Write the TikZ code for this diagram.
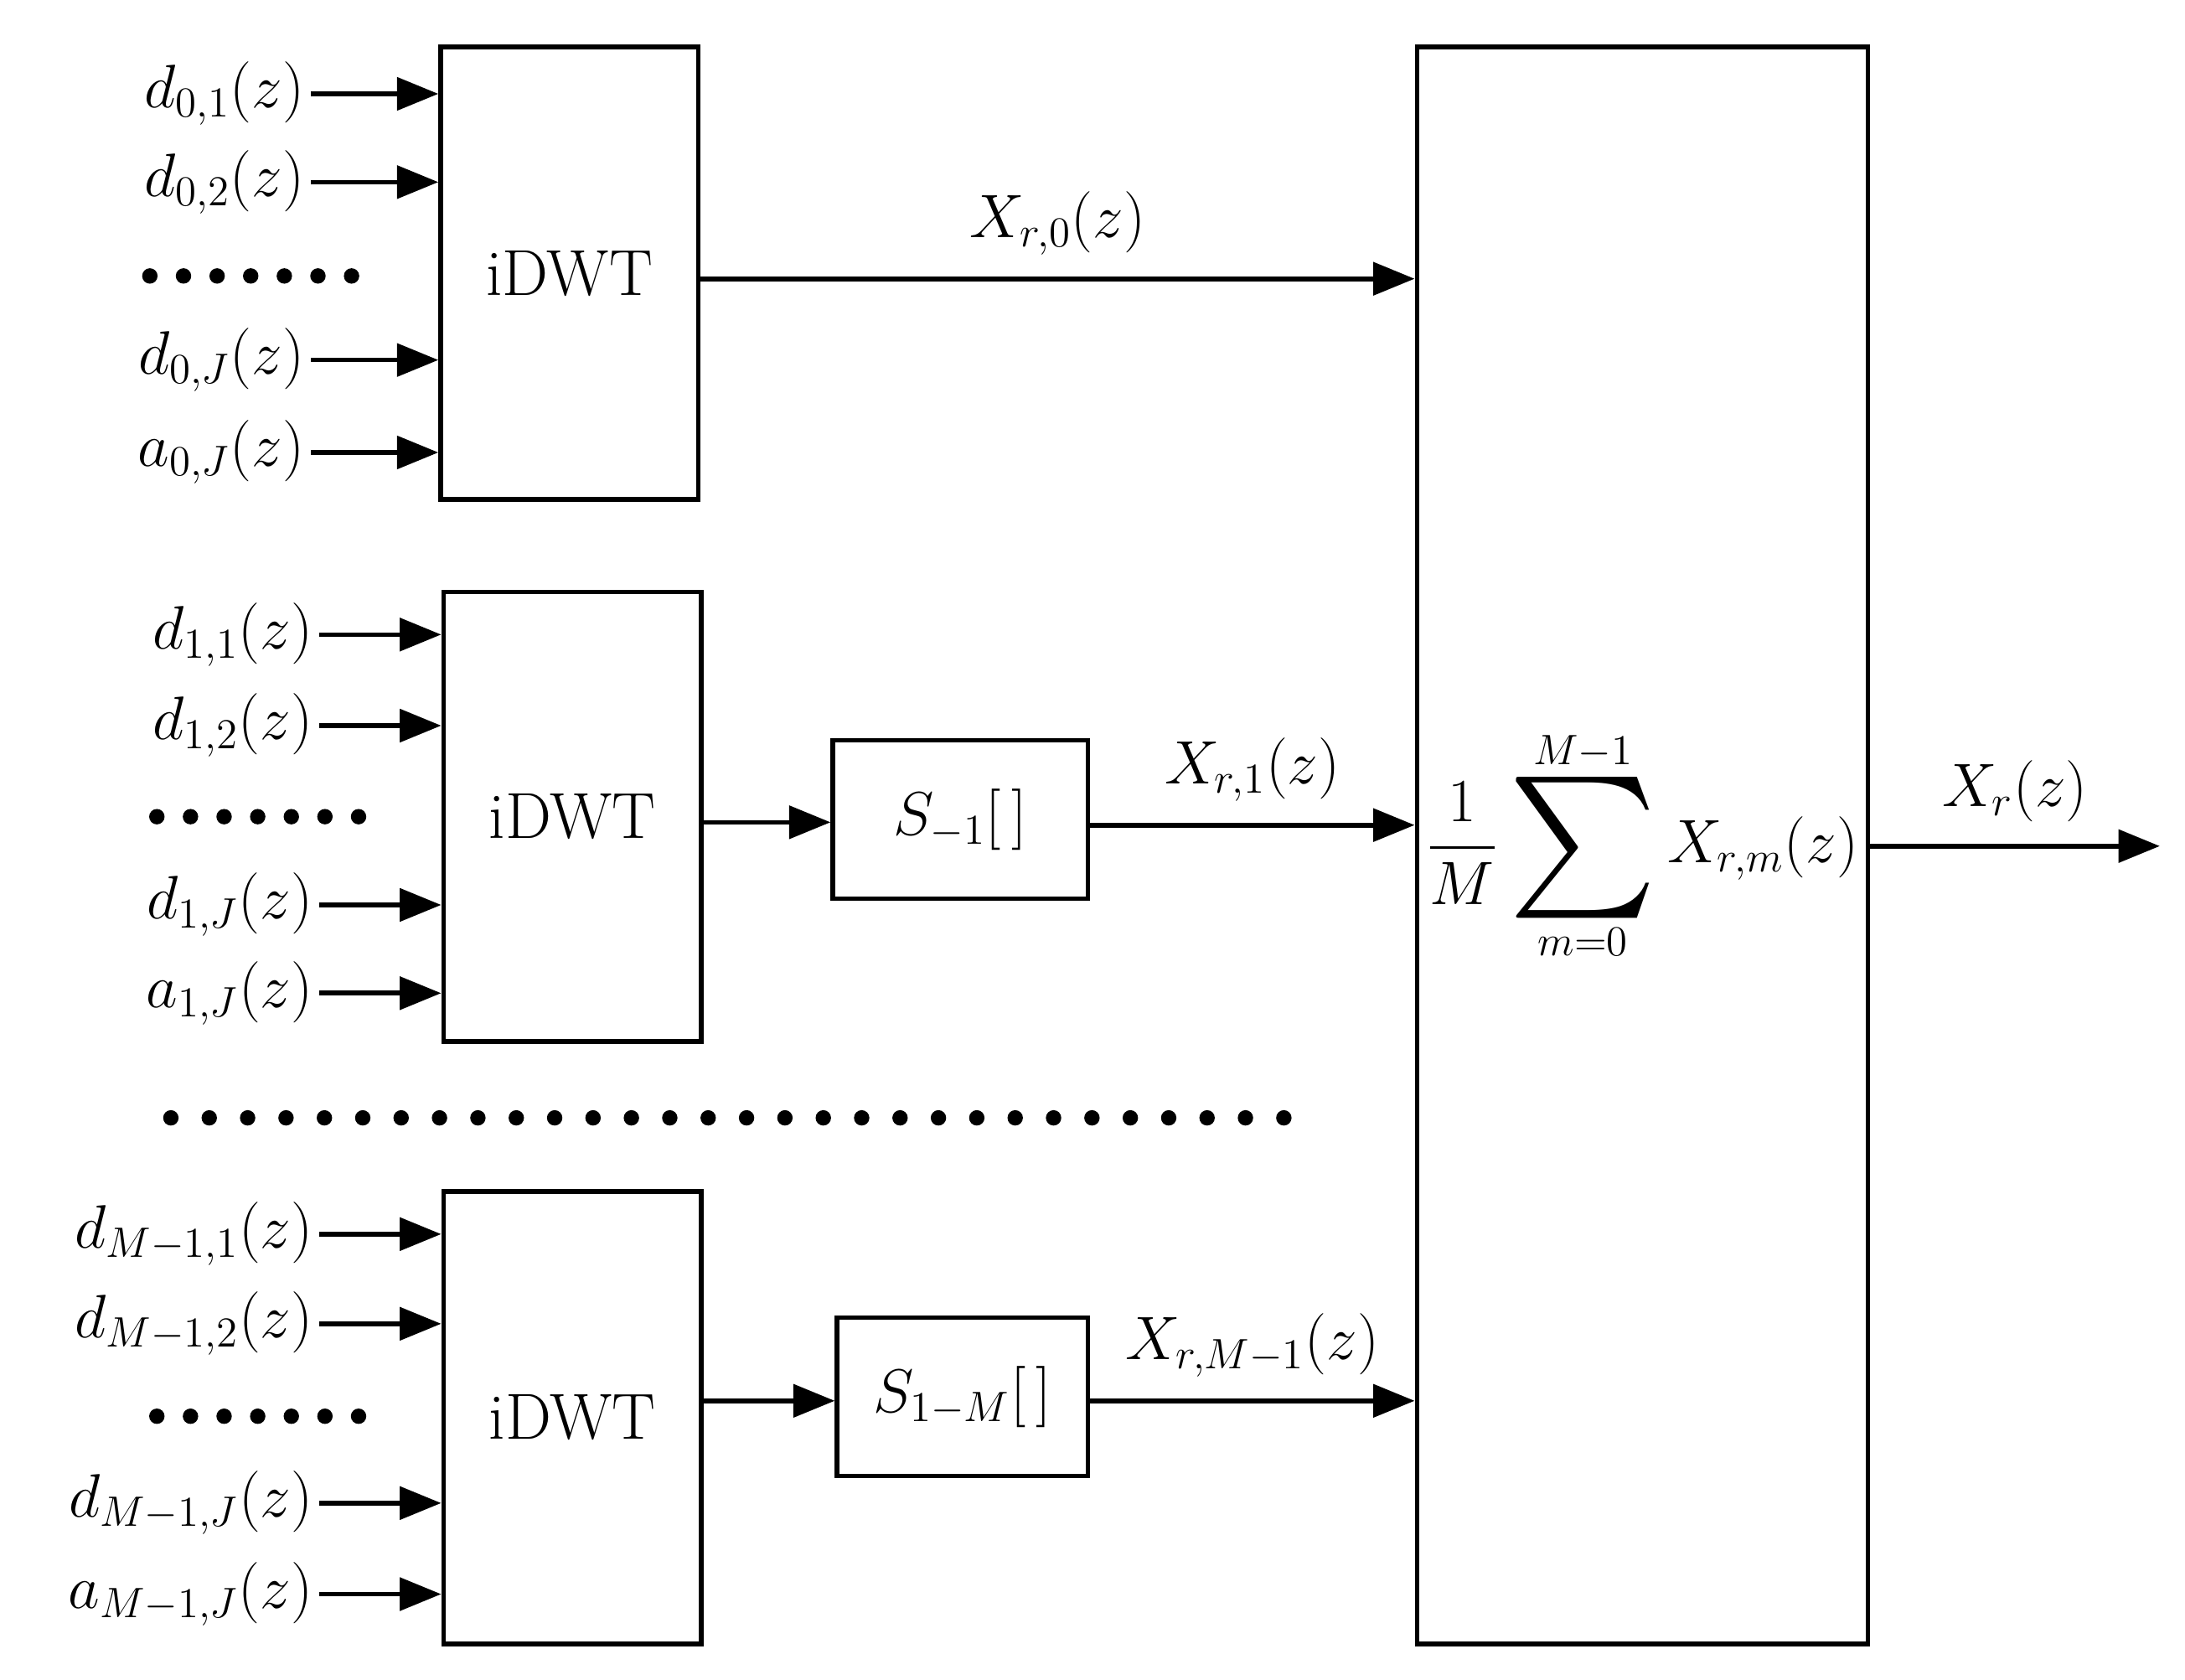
\documentclass[tikz,border=0pt]{standalone}
\usepackage{amsmath}
\usepackage{tikz}
\usetikzlibrary{arrows.meta}

\begin{document}
\begin{tikzpicture}[x=0.01665cm,y=-0.01665cm,font=\fontsize{22}{26}\selectfont,
  block/.style={draw, line width=1.5pt, anchor=north west, inner sep=0pt},
  sig/.style={-{Triangle[length=14pt,width=11pt]}, line width=1.6pt},
  lbl/.style={anchor=east, inner sep=2pt}]
\useasboundingbox (0,0) rectangle (1560,1199);

% iDWT banks
\node (idwt0) [block, minimum width=184*0.01665cm, minimum height=323*0.01665cm] at (313,32) {iDWT};
\node (idwt1) [block, minimum width=184*0.01665cm, minimum height=321*0.01665cm] at (315,421) {iDWT};
\node (idwt2) [block, minimum width=184*0.01665cm, minimum height=323*0.01665cm] at (315,849) {iDWT};

% shifts
\node (shift1) [block, minimum width=182*0.01665cm, minimum height=113*0.01665cm] at (593,527) {$S_{-1}[\,]$};
\node (shift2) [block, minimum width=179*0.01665cm, minimum height=113*0.01665cm] at (596,939) {$S_{1-M}[\,]$};

% averaging
\node (avg) [block, minimum width=322*0.01665cm, minimum height=1140*0.01665cm] at (1010,32)
  {$\displaystyle\frac{1}{M}\mathop{\vcenter{\hbox{\scalebox{2.3}{$\sum$}}}}\limits_{m=0}^{M-1} X_{r,m}(z)$};

% inputs of bank 0
\foreach \yy/\txt [count=\i] in {67/{d_{0,1}(z)},130/{d_{0,2}(z)},257/{d_{0,J}(z)},323/{a_{0,J}(z)}} {
  \coordinate (in0\i) at (222,\yy);
  \node (lab0\i) [lbl] at (in0\i) {$\txt$};
  \draw[sig] (in0\i) -- (idwt0.west |- in0\i);
}
% inputs of bank 1
\foreach \yy/\txt [count=\i] in {453/{d_{1,1}(z)},518/{d_{1,2}(z)},646/{d_{1,J}(z)},709/{a_{1,J}(z)}} {
  \coordinate (in1\i) at (228,\yy);
  \node (lab1\i) [lbl] at (in1\i) {$\txt$};
  \draw[sig] (in1\i) -- (idwt1.west |- in1\i);
}
% inputs of bank M-1
\foreach \yy/\txt [count=\i] in {881/{d_{M-1,1}(z)},945/{d_{M-1,2}(z)},1073/{d_{M-1,J}(z)},1138/{a_{M-1,J}(z)}} {
  \coordinate (in2\i) at (228,\yy);
  \node (lab2\i) [lbl] at (in2\i) {$\txt$};
  \draw[sig] (in2\i) -- (idwt2.west |- in2\i);
}

% dots
\foreach \k in {0,...,6} {
  \fill (107+\k*24,197) circle (5.5);
  \fill (112+\k*24,583) circle (5.5);
  \fill (112+\k*24,1011) circle (5.5);
}
\foreach \k in {0,...,29} \fill (122+\k*27.4,798) circle (5.5);

% connections
\draw[sig] (idwt0.east |- 0,199) -- node[above=4pt] {$X_{r,0}(z)$} (avg.west |- 0,199);
\draw[sig] (idwt1.east |- 0,587) -- (shift1.west |- 0,587);
\draw[sig] (shift1.east |- 0,589) -- node[above=4pt] {$X_{r,1}(z)$} (avg.west |- 0,589);
\draw[sig] (idwt2.east |- 0,1000) -- (shift2.west |- 0,1000);
\draw[sig] (shift2.east |- 0,1000) -- node[above=4pt] {$X_{r,M-1}(z)$} (avg.west |- 0,1000);
\coordinate (out) at (1542,604);
\draw[sig] (avg.east |- out) -- node[above=4pt] {$X_r(z)$} (out);
\end{tikzpicture}
\end{document}
